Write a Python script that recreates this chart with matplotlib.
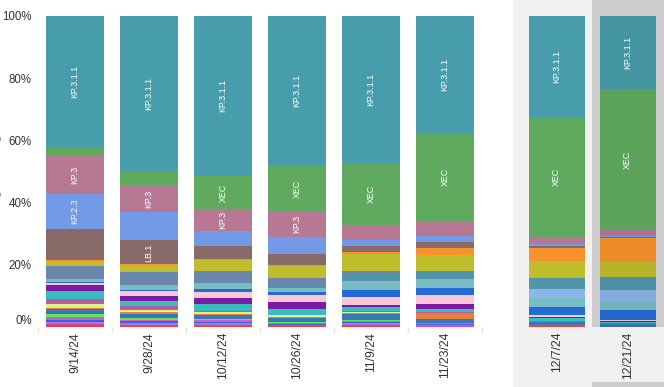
import matplotlib
matplotlib.use("Agg")
import matplotlib.pyplot as plt
import numpy as np
from matplotlib.patches import Rectangle
from matplotlib.transforms import blended_transform_factory, ScaledTranslation

plt.rcParams['font.family'] = ['Liberation Sans', 'DejaVu Sans']

# ---------------- data ----------------
dates = ["9/14/24", "9/28/24", "10/12/24", "10/26/24", "11/9/24", "11/23/24", "12/7/24", "12/21/24"]

# series listed bottom -> top (percent of sequences per two-week period)
red          = [0.5, 0.3, 0.3, 0.2, 0.2, 0.1, 0.2, 0.0]
magenta      = [0.6, 0.5, 0.5, 0.3, 0.6, 0.3, 0.3, 0.0]
violet       = [0.6, 0.5, 0.4, 0.3, 0.4, 0.3, 0.0, 0.0]
blue2        = [0.6, 0.5, 0.5, 0.3, 0.3, 0.3, 0.0, 0.0]
pinkpurple   = [0.8, 0.5, 0.5, 0.3, 0.5, 0.3, 0.0, 0.0]
lime         = [1.0, 0.5, 0.3, 0.2, 0.4, 0.1, 0.0, 0.0]
steelblue    = [1.7, 1.5, 1.5, 1.3, 1.8, 1.3, 1.2, 1.1]
orange2      = [0.3, 0.4, 0.3, 0.2, 0.4, 1.7, 0.0, 0.0]
lightyellow  = [1.2, 0.9, 0.4, 0.6, 0.2, 0.2, 0.0, 0.0]
mauve        = [1.6, 1.0, 0.5, 0.3, 0.3, 0.3, 0.3, 0.3]
teal         = [2.6, 1.9, 2.3, 1.8, 1.4, 0.9, 0.8, 0.3]
purple       = [1.9, 1.6, 1.9, 2.1, 0.6, 1.6, 0.3, 0.3]
pink         = [0.7, 1.3, 1.9, 2.3, 2.5, 2.9, 0.7, 0.3]
blue         = [0.3, 0.6, 1.0, 1.1, 2.3, 2.3, 2.8, 3.2]
lightteal    = [0.9, 1.6, 2.0, 1.2, 2.9, 2.9, 2.9, 2.6]
lightblue    = [0.0, 0.0, 0.0, 0.0, 0.0, 0.0, 2.9, 3.9]
steel2       = [0.0, 0.0, 0.0, 1.0, 2.3, 2.6, 3.5, 4.2]
slate        = [4.3, 3.9, 3.8, 2.3, 1.0, 0.0, 0.0, 0.0]
olive        = [1.7, 2.3, 3.6, 3.9, 5.4, 5.0, 5.4, 4.8]
orange       = [0.4, 0.3, 0.3, 0.3, 0.6, 2.4, 4.3, 7.7]
LB_1         = [9.9, 7.7, 4.1, 3.5, 1.9, 1.9, 0.6, 0.3]
KP_2_3       = [11.2, 9.1, 4.8, 5.5, 1.9, 1.9, 0.6, 0.6]
KP_3         = [12.2, 8.6, 7.0, 8.0, 4.9, 4.8, 2.2, 1.6]
XEC          = [2.6, 4.5, 10.7, 15.0, 20.2, 28.3, 38.6, 45.2]
KP_3_1_1     = [42.4, 49.8, 51.4, 48.0, 47.3, 37.6, 32.6, 23.6]

series = [
    ("red", red, "#ee4037"),
    ("magenta", magenta, "#d63fae"),
    ("violet", violet, "#a874e4"),
    ("blue2", blue2, "#3d5fe2"),
    ("pinkpurple", pinkpurple, "#c862c4"),
    ("lime", lime, "#5eea52"),
    ("steelblue", steelblue, "#3d76b8"),
    ("orange2", orange2, "#e8803a"),
    ("lightyellow", lightyellow, "#d9f28c"),
    ("mauve", mauve, "#b25fa0"),
    ("teal", teal, "#38bcbd"),
    ("purple", purple, "#7a1ca2"),
    ("pink", pink, "#f9c7d8"),
    ("blue", blue, "#266bd5"),
    ("lightteal", lightteal, "#77bcc2"),
    ("lightblue", lightblue, "#8ab6e9"),
    ("steel2", steel2, "#5295ab"),
    ("slate", slate, "#6c87ae"),
    ("olive", olive, "#c0bd2d"),
    ("orange", orange, "#f8922a"),
    ("LB.1", LB_1, "#886a69"),
    ("KP.2.3", KP_2_3, "#729ae6"),
    ("KP.3", KP_3, "#b77893"),
    ("XEC", XEC, "#60aa5f"),
    ("KP.3.1.1", KP_3_1_1, "#479dab"),
]

# which segments carry an in-bar label (series name -> bar indices)
labelled = {
    "KP.3.1.1": [0, 1, 2, 3, 4, 5, 6, 7],
    "XEC": [2, 3, 4, 5, 6, 7],
    "KP.3": [0, 1, 2, 3],
    "KP.2.3": [0],
    "LB.1": [1],
}

# ---------------- layout ----------------
W, H = 664, 387
positions = np.array([0, 1, 2, 3, 4, 5, 6.51, 7.47])
widths = np.array([0.78] * 6 + [0.76] * 2)

fig = plt.figure(figsize=(W / 100, H / 100), dpi=100)
fig.patch.set_facecolor("white")
ax = fig.add_axes([38 / W, 60 / H, (W - 38) / W, 311 / H])
ax.set_xlim(-0.5, 7.96)
ax.set_ylim(0, 100)
ax.patch.set_alpha(0)

# background panels for the most recent (nowcast) periods
btr = blended_transform_factory(ax.transData, fig.transFigure)
fig.add_artist(Rectangle((5.92, 0), 5, 1, transform=btr, facecolor="#f1f1f1",
                         edgecolor="none", zorder=-3))
fig.add_artist(Rectangle((6.99, 60 / H), 5, 1, transform=btr, facecolor="#cccccc",
                         edgecolor="none", zorder=-2))
fig.add_artist(Rectangle((6.99, 0), 5, 5 / H, transform=btr, facecolor="#cccccc",
                         edgecolor="none", zorder=-2))

# normalise to 100 %
mat = np.array([s[1] for s in series], dtype=float)
mat = mat / mat.sum(axis=0) * 100

def darken(c, f):
    r, g, b = matplotlib.colors.to_rgb(c)
    return (r * f, g * f, b * f)

bottom = np.zeros(len(dates))
for (name, _, col), vals in zip(series, mat):
    cols = [col] * 7 + [darken(col, 0.95)]
    ax.bar(positions, vals, widths, bottom=bottom, color=cols, linewidth=0, zorder=2)
    for i in labelled.get(name, []):
        ax.text(positions[i], bottom[i] + vals[i] / 2, name, rotation=90,
                ha="center", va="center", color="white", fontsize=6.4, zorder=3)
    bottom += vals

# axes styling
for sp in ax.spines.values():
    sp.set_visible(False)

yt = [0, 20, 40, 60, 80, 100]
ax.set_yticks(yt, [f"{v}%" for v in yt])
ax.tick_params(axis="y", length=0, pad=4.5, labelsize=8.3, labelcolor="#333333")
t0 = ax.yaxis.get_major_ticks()[0].label1
t0.set_transform(t0.get_transform() + ScaledTranslation(0, 7 / 100, fig.dpi_scale_trans))

ax.set_xticks(positions, dates, rotation=90)
ax.tick_params(axis="x", length=0, pad=3.6, labelsize=8.7, labelcolor="#333333")
ax.set_xticks([-0.5, 0.5, 1.5, 2.5, 3.5, 4.5, 5.5], minor=True)
ax.tick_params(axis="x", which="minor", length=4, width=1, color="#e4e4e4")

# axis title (partly outside the canvas, as in the original)
fig.text(-4 / W, 0.55, "% Viral Lineages Among Infections", rotation=90,
         ha="center", va="center", fontsize=9, color="#888888")

fig.savefig("out.png", dpi=100)
